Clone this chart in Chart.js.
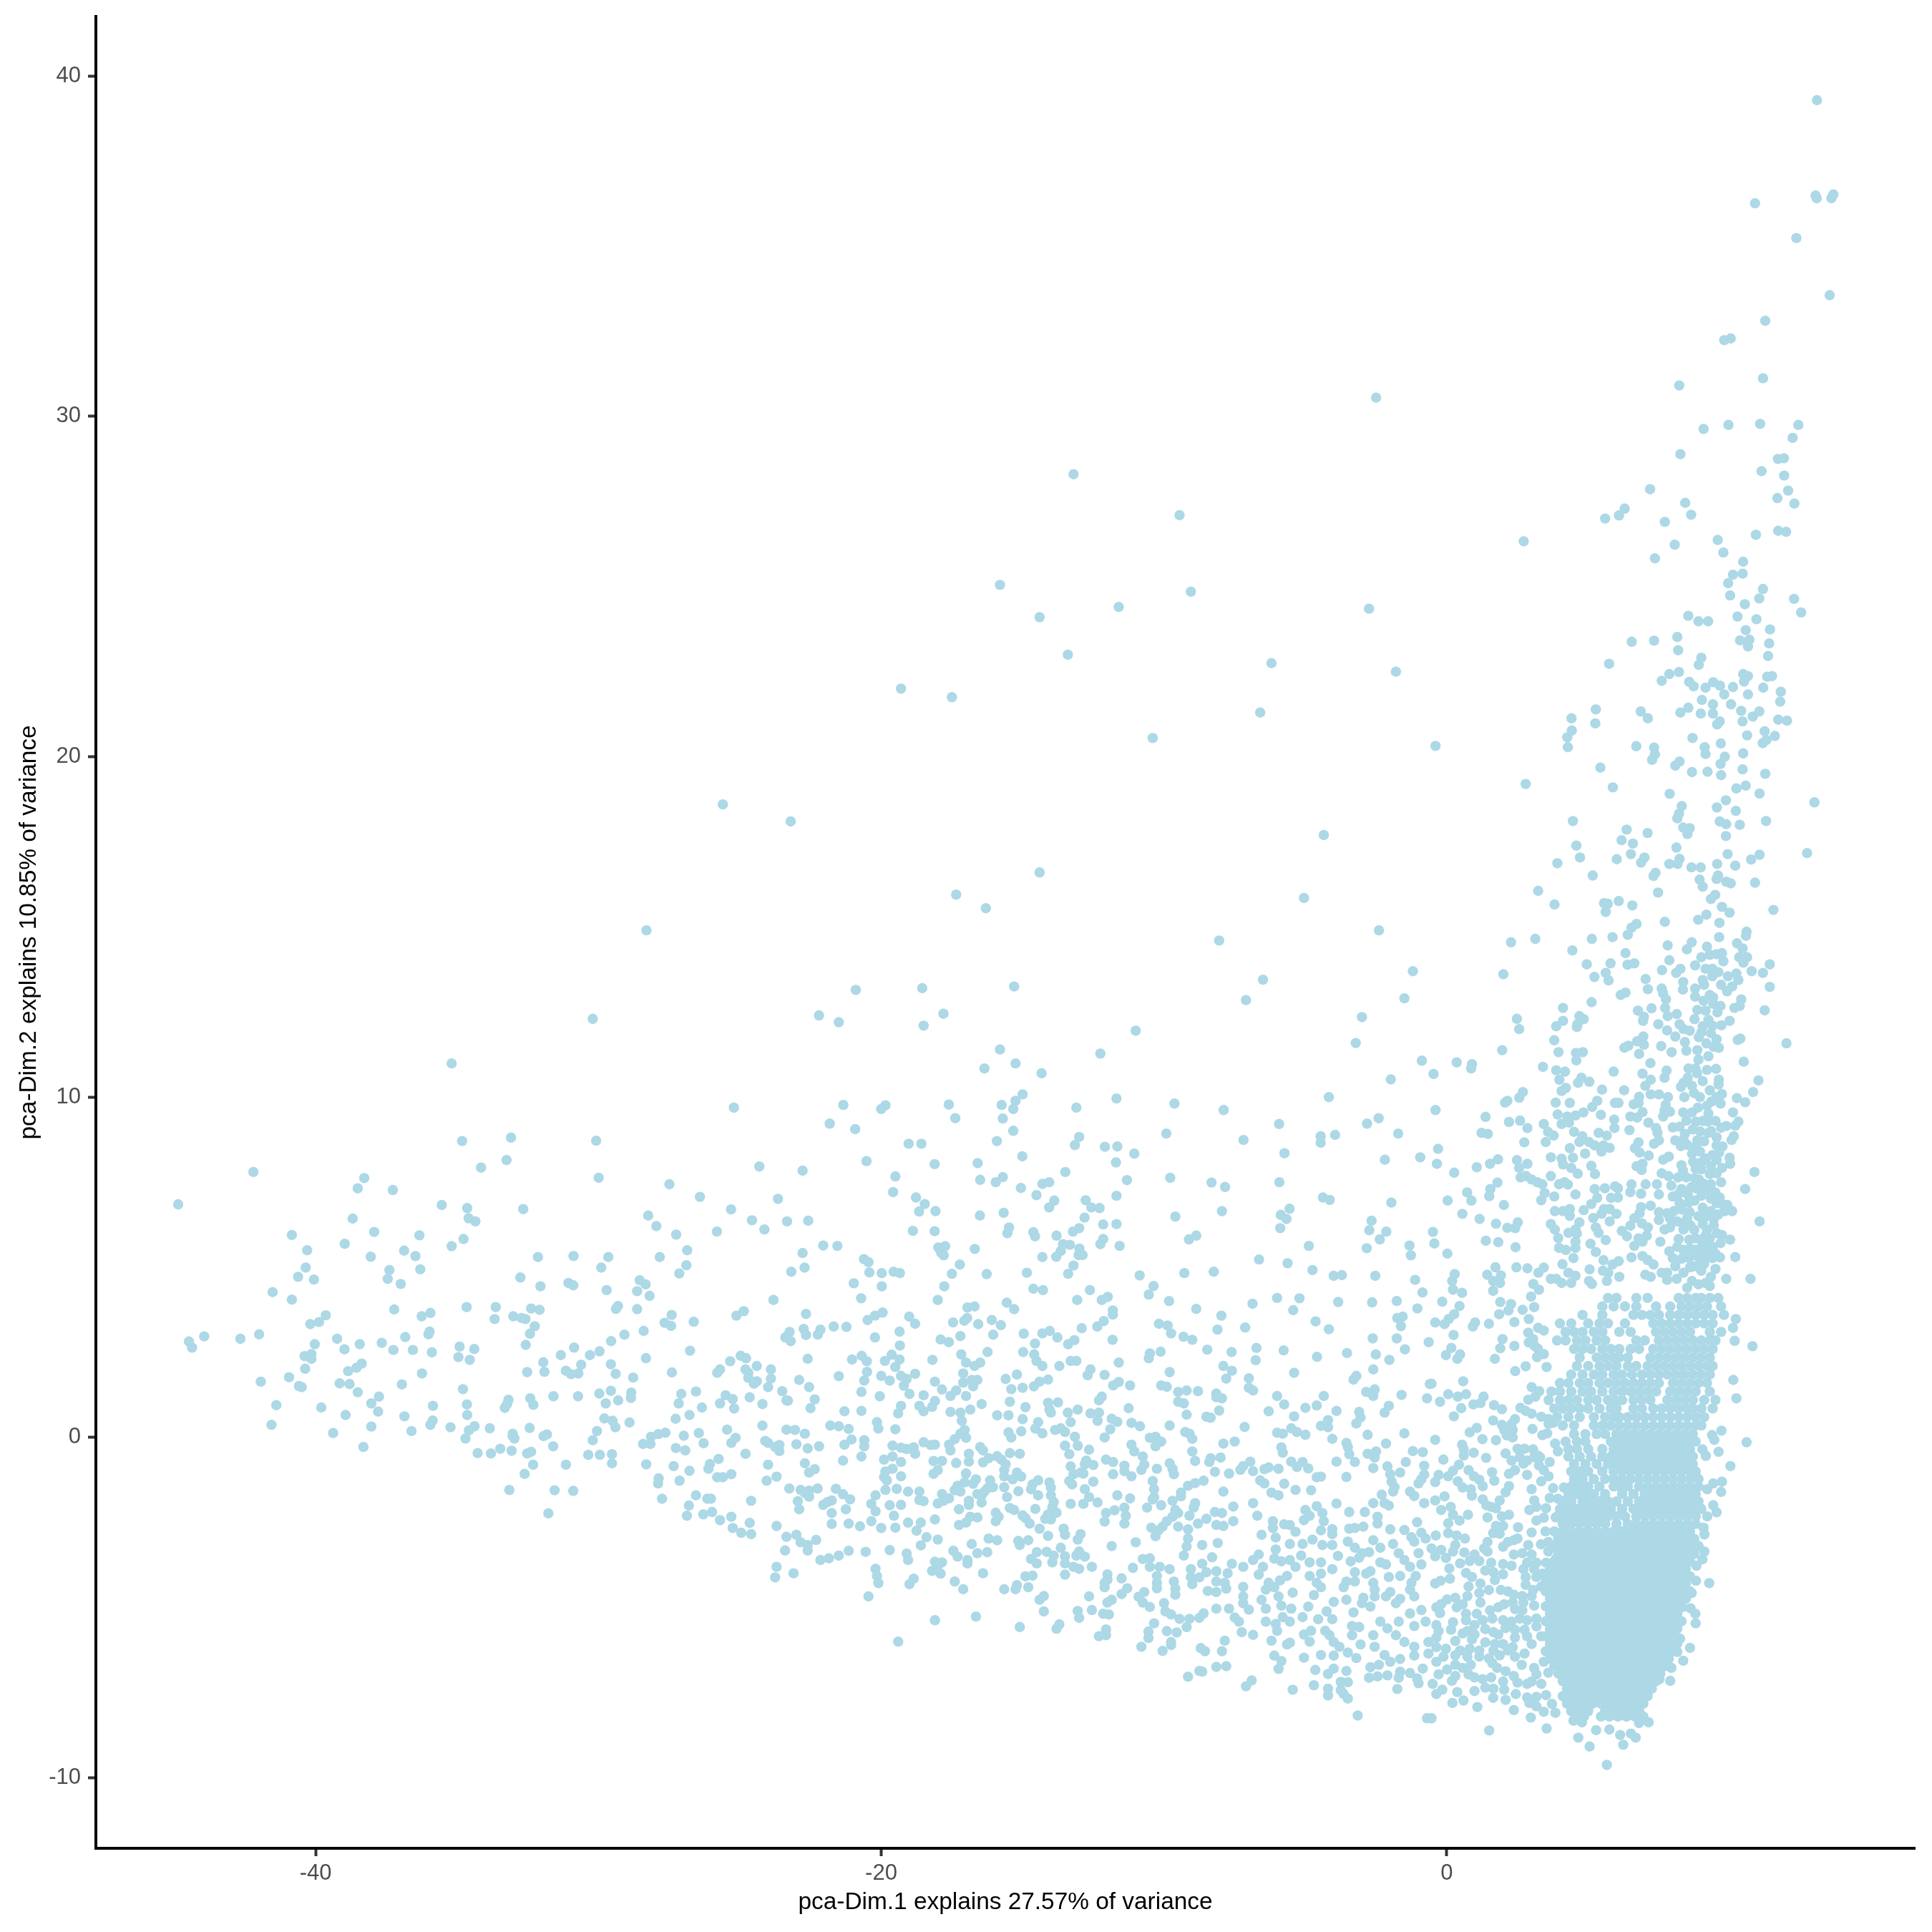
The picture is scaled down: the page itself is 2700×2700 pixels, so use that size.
<!DOCTYPE html>
<html>
<head>
<meta charset="utf-8">
<title>PCA scatter</title>
<script src="https://cdn.jsdelivr.net/npm/chart.js@4/dist/chart.umd.min.js"></script>
<style>
  html, body { margin: 0; padding: 0; background: #fff; }
  canvas { display: block; }
</style>
</head>
<body>
<canvas id="pca" width="2700" height="2700"></canvas>
<script>
const xTicks = [-40, -20, 0]
const yTicks = [-10, 0, 10, 20, 30, 40]
const xTitle = 'pca-Dim.1 explains 27.57% of variance'
const yTitle = 'pca-Dim.2 explains 10.85% of variance'

// Left part of the cloud
const farLeftPoints = [[-35.19,10.99],[-34.82,8.71],[-33.09,8.81],[-30.08,8.72],[-42.2,7.8],[-34.15,7.93],[-33.25,8.15],[-29.99,7.63],[-27.49,7.44],[-26.41,7.07],[-38.28,7.62],[-38.51,7.32],[-37.27,7.27],[-44.86,6.85],[-35.54,6.83],[-34.64,6.74],[-32.66,6.71],[-38.69,6.43],[-34.59,6.44],[-34.35,6.35],[-28.24,6.52],[-27.95,6.21],[-27.25,5.96],[-37.93,6.04],[-40.84,5.95],[-36.33,5.94],[-34.77,5.83],[-35.19,5.62],[-38.97,5.69],[-40.3,5.5],[-36.87,5.49],[-38.05,5.31],[-36.47,5.33],[-32.14,5.3],[-30.88,5.33],[-29.65,5.3],[-27.83,5.3],[-26.86,5.5],[-26.89,5.06],[-27.14,4.82],[-29.9,4.99],[-40.35,4.99],[-37.39,4.92],[-36.3,4.94],[-40.62,4.72],[-40.06,4.64],[-37.45,4.66],[-36.99,4.51],[-32.76,4.7],[-32.05,4.44],[-31.06,4.54],[-30.89,4.47],[-29.71,4.33],[-28.54,4.62],[-28.33,4.5],[-28.63,4.3],[-28.19,4.16],[-41.52,4.27],[-40.84,4.05],[-29.31,3.86],[-29.38,3.78],[-28.63,3.77],[-37.22,3.76],[-35.94,3.66],[-36.25,3.56],[-34.66,3.83],[-33.63,3.83],[-33.67,3.48],[-33.01,3.56],[-32.72,3.51],[-32.58,3.48],[-32.38,3.79],[-32.08,3.75],[-32.25,3.27],[-32.42,3.05],[-39.64,3.59],[-39.88,3.39],[-40.19,3.33],[-35.97,3.11],[-36.01,3.03],[-27.41,3.6],[-27.66,3.37],[-27.43,3.28],[-26.63,3.4],[-28.4,3.13],[-29.08,3.02],[-29.55,2.83],[-43.94,2.97],[-44.48,2.82],[-44.37,2.64],[-42.66,2.9],[-42.0,3.03],[-40.03,2.74],[-39.24,2.9],[-38.44,2.74],[-38.98,2.59],[-37.66,2.78],[-36.83,2.95],[-37.25,2.57],[-36.56,2.57],[-35.89,2.5],[-34.91,2.67],[-34.39,2.6],[-34.95,2.36],[-34.55,2.28],[-32.57,2.72],[-30.86,2.64],[-31.33,2.42],[-30.3,2.42],[-29.96,2.53],[-26.76,2.55],[-28.32,2.33],[-40.39,2.39],[-40.15,2.45],[-40.15,2.31],[-40.37,2.02],[-38.37,2.17],[-38.55,2.05],[-38.85,1.95],[-31.95,2.21],[-30.61,2.14],[-29.56,2.15],[-32.52,1.92],[-31.91,1.93],[-31.15,1.96],[-30.97,1.86],[-30.71,1.88],[-29.39,1.87],[-28.77,1.76],[-27.4,1.91],[-36.24,1.88],[-40.94,1.77],[-41.94,1.64],[-40.59,1.51],[-40.49,1.48],[-39.15,1.59],[-38.8,1.57],[-36.95,1.56],[-38.51,1.33],[-34.79,1.42],[-29.56,1.37],[-28.84,1.32],[-28.85,1.16],[-29.97,1.29],[-30.72,1.21],[-31.59,1.21],[-32.41,1.15],[-33.18,1.11],[-27.07,1.28],[-26.55,1.35],[-37.76,1.2],[-38.03,1.0],[-29.74,1.0],[-29.3,1.09],[-27.16,1.0],[-35.85,0.93],[-34.65,0.97],[-33.23,0.98],[-33.31,0.87],[-32.3,0.96],[-41.39,0.95],[-39.8,0.88],[-37.79,0.76],[-26.34,0.88],[-38.94,0.66],[-34.64,0.66],[-36.86,0.62],[-26.78,0.66],[-27.27,0.55],[-29.79,0.56],[-29.5,0.49],[-28.9,0.44],[-29.4,0.3],[-35.86,0.5],[-35.94,0.37],[-41.56,0.37],[-38.03,0.32],[-34.38,0.33],[-35.23,0.3],[-34.58,0.21],[-33.84,0.27],[-32.43,0.28],[-36.61,0.19],[-39.38,0.13],[-30.05,0.19],[-33.03,0.11],[-33.03,0.04],[-32.97,-0.03],[-31.82,0.09],[-31.94,0.04],[-34.7,-0.03],[-30.2,-0.08],[-26.45,0.13],[-26.98,0.05],[-27.63,0.14],[-27.88,0.1],[-28.14,0.02],[-28.42,-0.19],[-28.16,-0.19],[-26.28,-0.17],[-27.26,-0.31],[-26.93,-0.38],[-38.31,-0.28],[-33.47,-0.33],[-31.6,-0.26],[-34.27,-0.46],[-33.8,-0.47],[-33.07,-0.39],[-32.52,-0.47],[-32.38,-0.42],[-30.36,-0.51],[-29.95,-0.51],[-29.52,-0.49],[-29.52,-0.76],[-28.31,-0.79],[-27.34,-0.84],[-32.31,-0.8],[-31.15,-0.8],[-32.61,-1.07],[-26.78,-0.98],[-26.11,-0.92],[-26.06,-0.78],[-27.87,-1.2],[-27.89,-1.35],[-27.13,-1.27],[-33.15,-1.54],[-31.55,-1.55],[-30.89,-1.57],[-27.75,-1.8],[-26.55,-1.7],[-26.15,-1.8],[-26.02,-1.8],[-26.8,-2.0],[-31.77,-2.23],[-26.87,-2.3],[-26.29,-2.26],[-25.98,-2.19]]

// Lone points above the main cloud
const upperMiddlePoints = [[-28.3,14.9],[-30.2,12.3],[-25.6,18.6],[-23.2,18.1],[-19.3,22.0],[-17.5,21.75],[-15.8,25.05],[-14.4,24.1],[-13.2,28.3],[-13.4,23.0],[-11.6,24.4],[-9.45,27.1],[-9.05,24.85],[-10.4,20.55],[-6.2,22.75],[-6.6,21.3],[-2.5,30.55],[-2.75,24.35],[-1.8,22.5],[-4.35,17.7],[-5.05,15.85],[-8.05,14.6],[-6.5,13.45],[-7.1,12.85],[-2.4,14.9],[-1.2,13.7],[-1.5,12.9],[-3.0,12.35],[-14.4,16.6],[-16.3,15.55],[-17.35,15.95],[-15.3,13.25],[-18.55,13.2],[-17.8,12.45],[-18.5,12.1],[-20.9,13.15],[-22.2,12.4],[-21.5,12.2],[-11.0,11.95]]

const upperRightPoints = [[13.09,39.29],[13.04,36.49],[13.08,36.41],[13.6,36.41],[13.67,36.52],[10.9,36.26],[12.36,35.24],[13.54,33.56],[11.26,32.81],[9.81,32.24],[10.04,32.29],[8.22,30.91],[11.18,31.12],[9.08,29.63],[9.96,29.75],[11.08,29.78],[12.43,29.75],[12.23,29.37],[8.26,28.89],[11.71,28.75],[11.92,28.77],[11.13,28.39],[11.93,28.26],[12.07,27.82],[11.69,27.6],[12.29,27.44],[7.19,27.86],[6.29,27.29],[6.09,27.09],[5.6,27.0],[8.43,27.46],[8.64,27.11],[7.71,26.9],[8.06,26.23],[7.36,25.83],[2.72,26.33],[9.58,26.37],[9.78,26.0],[10.93,26.52],[11.72,26.64],[12.0,26.61],[10.48,25.73],[10.46,25.38],[10.12,25.35],[9.95,25.1],[10.02,24.74],[11.18,24.93],[11.05,24.65],[10.54,24.48],[12.28,24.64],[12.53,24.24],[10.28,24.12],[10.95,24.04],[8.54,24.14],[8.9,23.98],[9.24,23.98],[10.57,23.72],[11.43,23.74],[8.15,23.52],[7.33,23.41],[6.54,23.38],[10.37,23.42],[10.7,23.44],[11.4,23.33]]

// Middle of the cloud, x from -26 to -0.5
const middleUpperPoints = [[-15.8,11.4],[-12.25,11.28],[-3.22,11.59],[-15.25,10.99],[-16.35,10.84],[-14.33,10.7],[-0.88,11.07],[-1.98,10.52],[-15.0,10.08],[-15.25,9.89],[-15.74,9.77],[-15.33,9.65],[-25.21,9.69],[-21.34,9.77],[-19.85,9.76],[-20.0,9.65],[-17.61,9.78],[-17.38,9.38],[-15.7,9.37],[-13.1,9.69],[-11.68,9.96],[-9.63,9.81],[-7.89,9.62],[-4.17,10.0],[-5.93,9.21],[-2.41,9.38],[-2.82,9.22],[-21.82,9.22],[-20.92,9.06],[-15.33,9.01],[-13.0,8.83],[-9.92,8.93],[-4.46,8.85],[-4.46,8.66],[-3.95,8.89],[-1.72,8.93],[-7.19,8.74],[-19.03,8.63],[-18.58,8.63],[-15.91,8.71],[-13.15,8.59],[-12.09,8.54],[-11.65,8.55],[-11.05,8.34],[-5.74,8.35],[-15.01,8.26],[-24.31,7.96],[-22.78,7.84],[-20.52,8.12],[-18.11,8.03],[-16.59,8.06],[-11.7,8.08],[-2.19,8.16],[-0.94,8.23],[-13.49,7.8],[-19.5,7.67],[-16.5,7.57],[-15.95,7.5],[-15.7,7.65],[-14.3,7.45],[-14.06,7.5],[-11.31,7.56],[-9.78,7.63],[-8.32,7.49],[-7.84,7.36],[-5.92,7.5],[-15.06,7.33],[-19.58,7.21],[-14.51,7.12],[-11.68,7.1],[-18.77,7.05],[-23.65,7.01],[-13.88,6.96],[-12.77,6.97],[-4.38,7.05],[-4.14,6.98],[-1.96,6.9],[-18.46,6.86],[-14.06,6.76],[-12.57,6.76],[-12.28,6.74],[-25.31,6.7],[-18.08,6.65],[-18.66,6.64],[-15.67,6.6],[-7.95,6.65],[-5.56,6.72],[-5.87,6.54],[-16.51,6.52],[-9.6,6.49],[-12.81,6.46],[-5.67,6.42],[-24.57,6.38],[-23.33,6.35],[-22.58,6.37],[-2.66,6.37],[-12.15,6.26],[-11.68,6.27],[-24.13,6.11],[-18.88,6.07],[-18.11,6.06],[-15.48,6.17],[-15.54,6.0],[-5.89,6.15],[-2.74,6.09],[-2.14,6.05],[-25.81,6.05],[-13.0,6.15],[-13.22,6.05],[-14.62,6.03],[-14.56,5.91],[-13.8,5.93],[-8.86,5.93],[-9.12,5.82],[-2.37,5.82],[-12.15,5.83],[-12.25,5.68],[-13.57,5.68],[-13.33,5.66],[-11.57,5.63],[-22.05,5.64],[-21.55,5.63],[-4.88,5.63],[-1.32,5.64],[-17.98,5.58],[-17.74,5.62],[-16.69,5.54],[-13.65,5.48],[-12.99,5.55],[-22.78,5.42],[-17.88,5.43],[-17.79,5.35],[-13.02,5.36],[-12.88,5.36],[-2.83,5.56],[-1.27,5.35],[-13.81,5.31],[-14.3,5.3],[-20.61,5.24],[-20.45,5.15],[-6.64,5.23],[-13.2,5.05],[-17.22,5.08],[-5.63,5.12],[-22.71,4.99],[-23.18,4.87],[-20.42,4.85],[-19.98,4.83],[-19.56,4.87],[-19.34,4.83],[-17.5,4.81],[-16.27,4.8],[-14.85,4.84],[-13.39,4.81],[-10.86,4.76],[-9.28,4.83],[-8.24,4.87],[-4.75,4.92],[-4.0,4.75],[-3.71,4.77],[-2.53,4.75],[-20.97,4.53],[-19.98,4.44],[-17.77,4.44],[-10.37,4.45],[-1.12,4.63],[-10.54,4.2],[-14.62,4.37],[-14.28,4.33],[-12.62,4.33],[-0.86,4.26],[-20.71,4.09],[-23.81,4.04],[-18.0,4.04],[-13.07,4.04],[-12.2,4.04],[-11.99,4.13],[-9.82,4.01],[-6.0,4.1],[-5.21,4.09],[-3.84,3.98],[-2.64,3.97],[-1.77,4.01],[-6.87,3.93],[-15.56,3.96],[-16.95,3.82],[-16.7,3.85],[-15.3,3.77],[-8.86,3.78],[-5.43,3.74],[-1.04,3.79],[-24.86,3.71],[-25.12,3.58],[-22.66,3.63],[-19.95,3.67],[-20.22,3.58],[-20.48,3.45],[-11.81,3.73],[-11.81,3.61],[-7.97,3.58],[-1.56,3.55],[-1.75,3.51],[-19.01,3.55],[-18.8,3.34],[-17.46,3.38],[-16.96,3.51],[-17.06,3.43],[-16.57,3.33],[-16.09,3.45],[-15.77,3.3],[-12.13,3.42],[-12.36,3.26],[-4.64,3.41],[-10.18,3.34],[-9.87,3.29],[-1.62,3.27],[-7.13,3.23],[-4.17,3.18],[-22.74,3.19],[-22.15,3.17],[-21.68,3.26],[-21.23,3.25],[-23.24,3.1],[-22.66,3.01],[-22.24,3.02],[-19.35,3.11],[-12.91,3.21],[-8.11,3.17],[-14.04,3.13],[-14.3,3.06],[-14.96,3.05],[-9.75,3.06],[-16.04,3.02],[-20.22,2.94],[-23.39,2.94],[-23.2,2.83],[-13.77,2.94],[-17.2,2.98],[-9.31,2.96],[-9.0,2.87],[-2.62,2.91],[-1.77,2.91],[-0.64,2.8],[-17.9,2.88],[-17.61,2.8],[-13.17,2.86],[-13.39,2.74],[-11.82,2.87],[-14.56,2.76],[-19.34,2.7],[-8.47,2.58],[-7.61,2.51],[-6.73,2.63],[-5.77,2.56],[-1.48,2.59],[-14.98,2.51],[-16.24,2.51],[-17.17,2.44],[-10.12,2.52],[-10.5,2.47],[-10.54,2.33],[-3.53,2.48],[-4.59,2.37],[-2.51,2.44],[-14.59,2.44],[-19.63,2.43],[-20.69,2.4],[-24.97,2.4],[-24.78,2.33],[-21.03,2.29],[-20.51,2.24],[-22.6,2.31],[-19.87,2.25],[-19.35,2.29],[-18.19,2.28],[-14.51,2.25],[-6.76,2.27],[-2.03,2.28],[-25.34,2.24]]

const middleCentrePoints = [[-24.4,2.1],[-25.7,2.0],[-23.9,2.0],[-24.8,2.0],[-24.7,1.9],[-17.0,2.2],[-16.5,2.2],[-16.7,2.1],[-14.3,2.1],[-13.7,2.1],[-13.3,2.25],[-13.1,2.25],[-11.6,2.2],[-12.6,2.0],[-7.9,2.1],[-7.6,1.96],[-19.5,2.07],[-20.5,1.93],[-2.6,2.0],[-5.4,1.9],[-9.8,1.92],[-12.7,1.83],[-25.8,1.9],[-23.9,1.73],[-24.7,1.75],[-24.4,1.65],[-24.5,1.58],[-22.9,1.69],[-21.5,1.8],[-20.6,1.67],[-20.0,1.81],[-19.7,1.67],[-19.3,1.81],[-19.1,1.72],[-18.8,1.87],[-18.1,1.64],[-17.1,1.88],[-17.1,1.61],[-16.8,1.69],[-16.6,1.69],[-16.75,1.5],[-15.6,1.72],[-15.2,1.85],[-14.4,1.64],[-14.1,1.7],[-14.6,1.5],[-12.1,1.84],[-11.6,1.63],[-11.8,1.53],[-11.2,1.53],[-7.8,1.73],[-7.0,1.74],[-3.3,1.7],[-3.2,1.81],[-0.6,1.57],[-24.0,1.48],[-23.5,1.36],[-22.55,1.48],[-19.2,1.52],[-17.85,1.41],[-17.35,1.38],[-15.4,1.42],[-15.0,1.46],[-10.1,1.53],[-9.9,1.49],[-9.5,1.34],[-9.2,1.38],[-8.8,1.36],[-8.15,1.29],[-7.0,1.46],[-6.85,1.38],[-2.85,1.34],[-2.55,1.41],[-6.0,1.22],[-4.35,1.22],[-1.6,1.25],[-0.7,1.15],[-19.0,1.28],[-25.5,1.24],[-20.7,1.34],[-17.55,1.22],[-17.0,1.22],[-20.05,1.21],[-18.5,1.24],[-25.25,1.13],[-24.65,1.18],[-23.35,1.09],[-23.3,1.08],[-22.35,1.12],[-25.7,1.0],[-24.2,0.98],[-18.1,1.07],[-18.2,0.9],[-18.65,0.93],[-15.45,1.05],[-16.45,0.98],[-14.1,1.02],[-13.75,1.03],[-12.2,1.2],[-12.3,1.09],[-9.5,1.05],[-9.3,1.0],[-8.15,1.18],[-7.95,1.15],[-5.75,0.97],[-5.0,0.87],[-4.6,0.94],[-2.6,1.22],[-2.05,0.93],[-13.05,0.82],[-19.3,0.93],[-22.5,0.86],[-25.2,0.85],[-14.9,0.89],[-18.5,0.77],[-17.55,0.75],[-17.2,0.73],[-16.85,0.82],[-20.7,0.78],[-21.3,0.77],[-19.4,0.71],[-14.05,0.82],[-14.0,0.73],[-13.4,0.73],[-12.6,0.71],[-12.3,0.73],[-11.25,0.86],[-9.2,0.67],[-8.05,0.79],[-6.3,0.77],[-3.9,0.78],[-3.1,0.75],[-2.2,0.73],[-15.9,0.65],[-15.5,0.65],[-5.4,0.62],[-3.05,0.59],[-8.5,0.61],[-8.35,0.58],[-17.15,0.49],[-15.0,0.54],[-12.35,0.49],[-11.85,0.55],[-11.65,0.46],[-14.45,0.45],[-13.3,0.45],[-20.15,0.45],[-4.2,0.51],[-3.2,0.41],[-21.8,0.35],[-21.5,0.33],[-24.2,0.35],[-20.1,0.26],[-19.5,0.24],[-17.05,0.22],[-11.15,0.43],[-10.85,0.33],[-9.8,0.35],[-7.15,0.31],[-4.45,0.34],[-4.2,0.3],[-14.55,0.26],[-13.85,0.22],[-13.65,0.27],[-13.5,0.16],[-11.9,0.24],[-21.15,0.25],[-23.35,0.23],[-23.05,0.22],[-25.45,0.23],[-6.0,0.14],[-5.8,0.11],[-5.5,0.27],[-5.3,0.16],[-5.0,0.08],[-9.25,0.16],[-9.1,0.11],[-22.7,0.11],[-15.5,0.15],[-15.05,0.18],[-14.3,0.12],[-15.4,0.0],[-17.2,0.11],[-17.4,-0.05],[-17.0,-0.01],[-13.15,0.02],[-12.1,0.0],[-10.5,-0.01],[-10.3,0.02],[-9.0,-0.04],[-2.8,0.08],[-4.05,-0.04],[-25.15,-0.01],[-21.05,-0.06],[-20.6,-0.08],[-10.1,-0.12],[-7.5,-0.12],[-1.5,0.12],[-25.3,-0.16],[-24.1,-0.1],[-24.0,-0.16],[-23.6,-0.22],[-23.75,-0.28],[-23.0,-0.2],[-22.2,-0.26],[-21.3,-0.21],[-20.6,-0.26],[-19.6,-0.24],[-19.3,-0.3],[-19.1,-0.34],[-18.85,-0.29],[-18.5,-0.14],[-18.25,-0.22],[-18.1,-0.21],[-17.6,-0.21],[-16.5,-0.28],[-13.5,-0.24],[-13.05,-0.24],[-11.15,-0.21],[-10.3,-0.26],[-7.9,-0.18],[-3.55,-0.16],[-3.5,-0.28],[-2.15,-0.18],[-5.85,-0.29],[-23.6,-0.4],[-22.6,-0.32],[-17.55,-0.38],[-16.4,-0.38],[-12.65,-0.36],[-11.05,-0.41],[-9.0,-0.41],[-5.8,-0.45],[-3.45,-0.49],[-2.8,-0.48],[-2.5,-0.41],[-24.8,-0.48],[-18.8,-0.48],[-16.9,-0.48],[-13.35,-0.49],[-15.45,-0.46],[-15.1,-0.48],[-20.7,-0.56],[-15.9,-0.55],[-16.2,-0.61],[-25.75,-0.63],[-21.35,-0.68],[-19.9,-0.65],[-19.6,-0.56],[-19.3,-0.72],[-18.15,-0.69],[-17.85,-0.69],[-17.35,-0.75],[-16.9,-0.71],[-16.4,-0.73],[-15.75,-0.65],[-12.05,-0.65],[-11.8,-0.72],[-12.75,-0.68],[-12.5,-0.81],[-10.75,-0.56],[-8.9,-0.69],[-8.35,-0.61],[-8.4,-0.72],[-8.0,-0.59],[-6.95,-0.71],[-5.5,-0.71],[-5.1,-0.72],[-3.9,-0.71],[-3.25,-0.72],[-1.45,-0.72],[-1.2,-0.4],[-0.85,-0.43],[-2.55,-0.59],[-24.0,-0.8],[-22.7,-0.76],[-22.35,-0.93],[-22.55,-1.03],[-19.6,-0.92],[-19.85,-1.0],[-18.0,-0.96],[-15.6,-0.79],[-15.65,-0.96],[-15.2,-1.03],[-13.3,-0.85],[-12.95,-1.03],[-12.8,-0.79],[-11.4,-0.83],[-11.4,-0.99],[-10.7,-0.8],[-10.8,-0.95],[-10.25,-0.92],[-9.8,-0.76],[-9.7,-0.92],[-7.2,-0.84],[-7.3,-0.95],[-6.85,-0.99],[-6.45,-0.93],[-6.3,-0.88],[-5.95,-0.92],[-5.3,-0.87],[-4.9,-0.91],[-2.6,-0.9],[-2.1,-0.85],[-0.8,-0.83],[-25.3,-1.08],[-25.6,-1.17],[-25.8,-1.17],[-18.15,-1.07],[-19.9,-1.16],[-19.3,-1.14],[-17.0,-1.06],[-15.65,-1.14],[-15.35,-1.23],[-15.05,-1.15],[-13.2,-1.08],[-12.85,-1.06],[-11.8,-1.08],[-11.15,-1.14],[-9.65,-1.08],[-8.2,-1.01],[-7.7,-1.06],[-1.65,-1.03],[-2.0,-1.08],[-4.45,-1.15],[-4.6,-1.17],[-3.55,-1.16],[-1.95,-1.3],[-0.8,-1.09],[-0.9,-1.23],[-24.05,-1.27],[-23.7,-1.15],[-19.8,-1.26],[-16.65,-1.23],[-14.45,-1.26],[-14.65,-1.38],[-14.05,-1.32],[-13.35,-1.28],[-13.25,-1.38],[-12.5,-1.3],[-10.4,-1.28],[-8.6,-1.27],[-8.9,-1.34],[-6.6,-1.26],[-6.45,-1.35],[-5.75,-1.36],[-1.0,-1.35],[-16.15,-1.26],[-17.3,-1.42],[-17.05,-1.32],[-16.75,-1.36],[-9.15,-1.42],[-23.25,-1.5],[-22.85,-1.54],[-22.55,-1.56],[-22.25,-1.5],[-21.6,-1.51],[-19.85,-1.54],[-19.45,-1.51],[-19.05,-1.59],[-18.65,-1.59],[-17.4,-1.55],[-17.2,-1.59],[-16.25,-1.5],[-16.05,-1.46],[-15.65,-1.46],[-14.0,-1.48],[-12.8,-1.52],[-14.7,-1.52],[-15.15,-1.58],[-16.35,-1.59],[-10.35,-1.52],[-9.4,-1.62],[-7.9,-1.59],[-5.35,-1.54],[-4.8,-1.55],[-6.2,-1.62],[-1.85,-1.46],[-1.9,-1.59],[-1.3,-1.59],[-2.3,-1.68]]

const middleLowerPoints = [[-22.7,-1.63],[-22.55,-1.74],[-21.35,-1.67],[-21.1,-1.82],[-20.2,-1.7],[-17.85,-1.66],[-17.6,-1.79],[-16.9,-1.86],[-16.45,-1.7],[-16.6,-1.66],[-15.55,-1.75],[-14.45,-1.7],[-14.0,-1.7],[-12.65,-1.75],[-11.65,-1.7],[-11.2,-1.79],[-10.35,-1.76],[-5.95,-1.7],[-9.4,-1.73],[-9.7,-1.86],[-1.15,-1.72],[-2.2,-1.93],[-4.6,-2.02],[-24.6,-1.86],[-22.95,-1.87],[-21.9,-1.9],[-21.75,-1.85],[-20.35,-1.95],[-19.7,-1.99],[-19.3,-1.98],[-18.65,-1.84],[-18.5,-1.87],[-18.0,-1.94],[-17.8,-1.86],[-16.9,-1.98],[-16.45,-1.91],[-13.9,-1.9],[-13.3,-1.95],[-12.85,-1.95],[-12.35,-1.91],[-10.4,-1.82],[-10.1,-1.99],[-8.9,-1.93],[-6.85,-1.93],[-3.9,-1.94],[-2.6,-1.93],[-0.8,-1.93],[-22.9,-2.11],[-22.05,-1.98],[-21.25,-2.11],[-20.2,-2.17],[-17.25,-2.11],[-15.45,-2.07],[-15.3,-2.13],[-14.55,-2.1],[-13.95,-2.06],[-11.4,-2.06],[-10.6,-2.06],[-9.6,-2.13],[-8.95,-2.06],[-7.55,-2.03],[-5.0,-2.13],[-2.05,-2.0],[-8.2,-2.19],[-7.95,-2.22],[-3.45,-2.19],[-2.9,-2.19],[-4.4,-2.22],[-25.3,-2.33],[-21.75,-2.22],[-19.55,-2.3],[-15.95,-2.21],[-15.85,-2.33],[-15.0,-2.29],[-14.1,-2.26],[-13.8,-2.21],[-12.05,-2.22],[-11.75,-2.14],[-11.35,-2.3],[-9.1,-2.3],[-9.5,-2.22],[-9.7,-2.33],[-6.7,-2.3],[-4.85,-2.3],[-2.45,-2.33],[-16.85,-2.33],[-16.6,-2.35],[-5.05,-2.43],[-25.7,-2.43],[-24.65,-2.51],[-21.75,-2.54],[-21.15,-2.53],[-20.75,-2.61],[-20.35,-2.46],[-19.05,-2.5],[-18.6,-2.5],[-18.1,-2.41],[-17.25,-2.57],[-17.0,-2.5],[-15.95,-2.46],[-14.9,-2.37],[-14.75,-2.53],[-14.2,-2.39],[-14.0,-2.41],[-12.1,-2.47],[-11.4,-2.53],[-8.8,-2.53],[-8.5,-2.39],[-8.15,-2.57],[-7.9,-2.6],[-7.55,-2.46],[-6.15,-2.46],[-5.75,-2.55],[-4.35,-2.46],[-2.45,-2.53],[-9.9,-2.46],[-10.05,-2.62],[-25.25,-2.66],[-23.7,-2.6],[-20.0,-2.66],[-19.5,-2.65],[-18.75,-2.74],[-14.4,-2.68],[-13.55,-2.68],[-10.45,-2.65],[-10.2,-2.73],[-9.5,-2.62],[-9.15,-2.7],[-6.15,-2.66],[-5.55,-2.57],[-5.35,-2.77],[-4.05,-2.69],[-3.45,-2.68],[-4.45,-2.73],[-3.25,-2.66],[-2.95,-2.62],[-2.0,-2.7],[-1.5,-2.72],[-1.05,-2.49],[-24.95,-2.8],[-24.6,-2.84],[-23.35,-2.92],[-23.0,-2.86],[-22.3,-3.01],[-18.4,-2.93],[-18.0,-3.0],[-16.2,-2.97],[-15.9,-3.02],[-15.15,-3.04],[-14.8,-3.02],[-14.1,-2.89],[-13.5,-2.86],[-12.95,-2.84],[-13.05,-3.0],[-10.3,-2.9],[-9.15,-2.97],[-6.55,-2.86],[-6.05,-2.94],[-4.75,-3.0],[-4.05,-2.84],[-3.5,-3.06],[-2.6,-3.02],[-1.25,-2.93],[-0.9,-2.8],[-0.75,-2.97],[-22.85,-3.08],[-22.6,-3.16],[-18.6,-3.17],[-16.8,-3.13],[-15.1,-3.16],[-13.65,-3.24],[-11.85,-3.19],[-11.0,-3.08],[-8.65,-3.16],[-8.1,-3.1],[-9.2,-3.2],[-5.55,-3.13],[-5.1,-3.13],[-4.4,-3.16],[-4.05,-3.16],[-3.25,-3.24],[-2.35,-3.24],[-1.9,-3.13],[-1.15,-3.06],[-23.4,-3.32],[-22.6,-3.32],[-21.15,-3.33],[-20.55,-3.36],[-19.7,-3.31],[-19.1,-3.41],[-17.45,-3.33],[-16.25,-3.37],[-16.6,-3.4],[-14.5,-3.37],[-14.15,-3.36],[-13.0,-3.35],[-9.3,-3.47],[-6.65,-3.44],[-6.05,-3.29],[-5.55,-3.6],[-5.15,-3.47],[-3.85,-3.48],[-3.0,-3.4],[-2.75,-3.37],[-1.7,-3.4],[-1.0,-3.4],[-22.15,-3.6],[-21.85,-3.55],[-21.5,-3.47],[-19.05,-3.6],[-17.3,-3.5],[-16.95,-3.6],[-14.7,-3.57],[-13.9,-3.47],[-13.5,-3.49],[-13.1,-3.47],[-12.8,-3.5],[-10.75,-3.57],[-10.5,-3.55],[-8.3,-3.52],[-6.85,-3.6],[-6.1,-3.56],[-5.85,-3.64],[-4.85,-3.67],[-4.45,-3.67],[-2.35,-3.67],[-3.4,-3.64],[-3.1,-3.53],[-1.5,-3.6],[-23.7,-3.8],[-20.2,-3.86],[-18.1,-3.65],[-17.85,-3.67],[-18.0,-3.77],[-16.95,-3.7],[-14.5,-3.7],[-13.95,-3.67],[-13.5,-3.7],[-13.2,-3.8],[-13.0,-3.86],[-12.55,-3.8],[-11.1,-3.83],[-10.5,-3.8],[-10.15,-3.8],[-9.8,-3.87],[-9.05,-3.87],[-8.65,-3.71],[-7.6,-3.71],[-7.2,-3.8],[-6.5,-3.8],[-5.35,-3.8],[-4.05,-3.87],[-2.7,-3.93],[-3.25,-3.96],[-2.15,-3.73],[-1.3,-3.8],[-0.9,-3.73],[-23.1,-3.99],[-23.75,-4.11],[-20.15,-4.07],[-18.2,-3.92],[-17.9,-4.0],[-16.4,-3.99],[-13.5,-4.03],[-12.0,-4.02],[-10.25,-4.07],[-9.05,-4.1],[-8.75,-4.11],[-8.5,-3.96],[-8.15,-3.93],[-7.75,-3.99],[-6.65,-4.03],[-5.65,-4.07],[-4.85,-4.07],[-4.45,-4.0],[-2.05,-4.1],[-2.85,-4.0],[-1.65,-4.07],[-1.1,-4.07],[-14.9,-4.08],[-14.65,-4.06],[-20.1,-4.28],[-19.0,-4.31],[-18.85,-4.15],[-17.4,-4.23],[-15.2,-4.34],[-12.1,-4.27],[-12.0,-4.18],[-11.5,-4.14],[-10.25,-4.27],[-9.65,-4.23],[-9.0,-4.31],[-8.15,-4.23],[-7.85,-4.27],[-6.3,-4.27],[-5.9,-4.2],[-4.6,-4.27],[-3.55,-4.23],[-3.25,-4.23],[-2.6,-4.27],[-1.25,-4.27],[-15.65,-4.46],[-17.1,-4.46],[-14.8,-4.4],[-15.25,-4.46],[-12.1,-4.4],[-11.3,-4.43],[-10.7,-4.54],[-10.25,-4.43],[-9.6,-4.44],[-8.45,-4.51],[-8.15,-4.54],[-7.8,-4.44],[-7.2,-4.39],[-6.4,-4.47],[-6.1,-4.4],[-5.45,-4.56],[-4.45,-4.4],[-3.65,-4.4],[-2.55,-4.47],[-2.0,-4.54],[-1.3,-4.47],[-20.45,-4.67],[-14.4,-4.77],[-14.25,-4.66],[-12.65,-4.67],[-11.5,-4.6],[-11.85,-4.77],[-10.9,-4.68],[-9.6,-4.62],[-7.2,-4.67],[-6.55,-4.77],[-5.95,-4.67],[-4.7,-4.63],[-3.55,-4.77],[-2.95,-4.71],[-2.55,-4.67],[-2.15,-4.67],[-1.65,-4.74],[-1.15,-4.67],[-14.25,-5.11],[-13.05,-5.1],[-12.55,-5.07],[-12.0,-4.85],[-12.15,-5.18],[-11.95,-5.2],[-10.75,-4.85],[-10.5,-4.98],[-10.0,-4.87],[-9.95,-5.11],[-9.75,-5.2],[-8.6,-5.17],[-8.15,-5.03],[-7.7,-5.03],[-7.2,-4.87],[-7.0,-5.06],[-6.4,-5.03],[-5.85,-4.94],[-5.5,-5.03],[-4.9,-4.97],[-4.25,-5.11],[-4.0,-4.83],[-3.3,-5.14],[-3.0,-4.87],[-2.7,-4.97],[-1.8,-4.87],[-1.3,-5.17],[-0.9,-5.07],[-18.1,-5.37],[-16.65,-5.26],[-13.0,-5.3],[-10.35,-5.46],[-9.45,-5.33],[-9.1,-5.33],[-8.75,-5.3],[-7.5,-5.29],[-7.35,-5.41],[-6.4,-5.41],[-6.05,-5.48],[-5.8,-5.28],[-5.55,-5.41],[-5.1,-5.28],[-4.55,-5.34],[-4.05,-5.34],[-3.35,-5.54],[-3.1,-5.57],[-2.35,-5.41],[-2.1,-5.61],[-1.7,-5.41],[-1.15,-5.54],[-0.75,-5.41],[-15.1,-5.57],[-13.7,-5.49],[-13.8,-5.62],[-12.05,-5.64],[-12.05,-5.81],[-12.3,-5.84],[-10.55,-5.7],[-10.55,-5.89],[-9.9,-5.69],[-9.55,-5.73],[-9.2,-5.57],[-7.25,-5.72],[-6.85,-5.8],[-6.0,-5.68],[-4.8,-5.68],[-5.05,-5.79],[-4.3,-5.68],[-3.35,-5.81],[-2.6,-5.81],[-4.15,-5.81],[-1.8,-5.81],[-1.5,-6.01],[-0.65,-6.01],[-19.4,-6.0],[-10.8,-6.15],[-9.75,-6.01],[-9.75,-6.1],[-7.85,-5.97],[-6.2,-5.97],[-5.65,-6.08],[-5.55,-6.03],[-4.85,-6.0],[-4.0,-6.01],[-3.8,-6.15],[-3.05,-6.08],[-2.55,-6.15],[-1.15,-6.15],[-10.05,-6.27],[-8.7,-6.19],[-8.55,-6.28],[-7.95,-6.28],[-6.1,-6.41],[-5.05,-6.47],[-4.45,-6.39],[-4.0,-6.41],[-3.5,-6.32],[-3.2,-6.48],[-2.2,-6.39],[-1.65,-6.51],[-1.15,-6.41],[-0.65,-6.35],[-5.85,-6.57],[-5.95,-6.8],[-8.15,-6.74],[-7.8,-6.72],[-8.75,-6.86],[-8.65,-6.88],[-9.15,-7.03],[-4.65,-6.83],[-4.0,-6.79],[-4.2,-6.95],[-3.55,-6.86],[-2.7,-6.75],[-2.75,-7.06],[-2.45,-7.02],[-2.1,-6.99],[-2.0,-6.59],[-2.4,-6.68],[-1.7,-7.06],[-1.65,-6.88],[-1.3,-6.92],[-1.05,-7.08],[-0.85,-6.79],[-7.1,-7.31],[-6.9,-7.14],[-5.45,-7.41],[-4.7,-7.28],[-4.2,-7.38],[-4.2,-7.58],[-3.75,-7.18],[-3.75,-7.42],[-3.5,-7.19],[-3.65,-7.53],[-3.5,-7.67],[-1.75,-7.39],[-1.0,-7.22],[-3.15,-8.17],[-0.7,-8.25]]

// Right arm, y from 23 down to 4.5
const rightArmPoints = [[5.74,22.73],[8.18,23.13],[9.0,22.91],[8.91,22.7],[10.65,23.24],[11.36,22.96],[7.6,22.23],[7.87,22.43],[8.21,22.49],[8.57,22.2],[8.73,22.07],[9.15,22.03],[9.42,22.19],[9.66,22.09],[9.81,21.83],[10.12,22.05],[10.48,22.43],[10.65,22.37],[10.51,22.21],[11.33,22.35],[11.5,22.37],[11.19,22.03],[11.81,21.91],[11.79,21.62],[10.65,21.83],[9.02,21.67],[9.41,21.54],[10.05,21.54],[5.27,21.39],[6.86,21.33],[7.11,21.13],[8.54,21.44],[8.26,21.3],[8.98,21.27],[9.41,21.27],[10.41,21.35],[10.82,21.18],[11.05,21.33],[10.46,21.04],[9.56,20.95],[9.65,21.04],[11.72,21.09],[12.03,21.06],[4.41,21.13],[5.25,20.98],[4.42,20.77],[4.26,20.57],[4.28,20.28],[-0.4,20.32],[10.62,20.63],[11.24,20.75],[11.6,20.61],[11.17,20.4],[11.3,20.49],[8.69,20.55],[9.12,20.28],[9.69,20.39],[6.7,20.31],[7.33,20.27],[7.36,20.07],[7.26,19.91],[9.15,20.08],[10.48,20.1],[9.83,20.0],[9.68,19.79],[8.23,19.86],[8.08,19.74],[5.43,19.68],[10.46,19.63],[8.67,19.55],[9.22,19.56],[9.7,19.46],[11.26,19.5],[2.79,19.2],[10.57,19.15],[10.24,19.07],[5.87,19.1],[7.88,18.91],[11.06,18.92],[13.0,18.66],[9.87,18.72],[8.31,18.55],[9.55,18.51],[10.22,18.41],[8.21,18.33],[8.15,18.19],[4.46,18.11],[9.65,18.1],[9.88,18.02],[10.36,18.0],[11.29,18.11],[8.36,17.92],[8.59,17.9],[8.51,17.73],[6.36,17.86],[7.1,17.76],[9.87,17.67],[6.18,17.55],[6.58,17.45],[4.58,17.39],[8.12,17.33],[6.51,17.14],[4.71,17.04],[6.01,16.99],[6.99,17.04],[6.87,16.89],[8.23,17.0],[7.87,16.85],[8.16,16.85],[9.93,17.14],[11.06,17.12],[10.76,16.98],[12.74,17.17],[3.91,16.87],[10.2,16.8],[9.56,16.85],[8.65,16.75],[8.98,16.75],[5.16,16.51],[7.38,16.59],[7.31,16.5],[9.59,16.51],[9.54,16.41],[8.94,16.39],[9.05,16.18],[9.88,16.33],[10.04,16.28],[10.9,16.3],[3.23,16.06],[7.47,16.01],[9.49,15.94],[9.34,15.82],[3.81,15.66],[5.56,15.7],[5.69,15.68],[5.62,15.44],[6.08,15.76],[6.56,15.63],[9.73,15.59],[10.0,15.42],[11.55,15.5],[9.18,15.36],[8.89,15.21],[7.71,15.15],[9.64,15.12],[6.71,15.09],[6.53,14.98],[6.4,14.77],[10.6,14.86],[10.58,14.74],[5.86,14.7],[5.13,14.65],[3.13,14.65],[2.27,14.55],[9.63,14.7],[8.66,14.55],[8.49,14.34],[7.81,14.46],[9.2,14.42],[10.26,14.52],[10.46,14.37],[4.44,14.31],[6.32,14.23],[9.3,14.18],[9.54,14.2],[9.73,14.23],[9.0,14.11],[10.34,14.11],[10.62,14.11],[10.49,13.95],[9.78,13.99],[7.87,14.02],[4.95,13.9],[5.79,13.93],[6.39,13.89],[6.63,13.93],[8.78,13.87],[11.42,13.9],[8.26,13.77],[7.61,13.73],[8.11,13.65],[9.15,13.77],[9.39,13.77],[9.6,13.67],[9.39,13.55],[10.78,13.7],[11.18,13.65],[2.0,13.61],[5.62,13.65],[10.24,13.63],[9.94,13.55],[5.22,13.53],[5.72,13.43],[7.03,13.47],[9.05,13.44],[10.31,13.44],[8.36,13.38],[7.6,13.19],[8.78,13.19],[7.11,13.17],[8.35,13.16],[10.09,13.25],[9.91,13.11],[11.42,13.24],[6.32,13.07],[6.15,13.0],[7.65,13.05],[8.78,12.95],[7.75,12.87],[9.42,12.93],[9.08,12.83],[5.12,12.79],[10.41,12.87],[9.42,12.74],[10.36,12.68],[7.72,12.62],[9.68,12.68],[10.17,12.62],[4.11,12.62],[6.76,12.54],[7.24,12.61],[8.86,12.56],[9.15,12.54],[9.57,12.49],[11.24,12.55],[8.13,12.44],[7.81,12.38],[2.48,12.3],[6.97,12.36],[4.69,12.38],[4.84,12.29],[8.76,12.29],[9.25,12.27],[4.11,12.24],[6.94,12.24],[10.0,12.24],[8.23,12.14],[7.48,12.14],[4.62,12.14],[3.87,12.08],[4.6,12.06],[9.05,12.08],[9.71,12.11],[2.56,12.0],[7.79,11.96],[8.37,12.0],[8.59,11.95],[9.34,11.88],[8.08,11.78],[6.95,11.78],[8.91,11.76],[10.38,11.72],[10.29,11.68],[3.8,11.67],[6.73,11.64],[9.54,11.7],[12.01,11.58],[8.42,11.62],[6.97,11.54],[9.18,11.58],[6.42,11.51],[6.28,11.45],[7.58,11.5],[1.96,11.38],[3.95,11.32],[9.44,11.48],[9.62,11.45],[4.81,11.32],[4.57,11.3],[7.95,11.32],[8.47,11.36],[8.86,11.38],[6.8,11.27],[4.58,11.08],[0.35,11.02],[0.89,10.97],[0.86,10.84],[7.2,11.0],[10.5,11.04],[3.4,10.89],[5.9,10.75],[8.79,10.84],[9.52,10.83],[8.55,10.84],[7.77,10.78],[3.87,10.79],[4.18,10.75],[-0.47,10.68],[6.92,10.69],[7.7,10.57],[8.52,10.57],[9.62,10.51],[7.21,10.51],[3.98,10.51],[4.76,10.57],[5.04,10.45],[4.64,10.42],[9.05,10.47],[11.02,10.49],[8.37,10.42],[7.02,10.33],[9.61,10.37],[8.28,10.3],[8.67,10.33],[4.21,10.27],[5.49,10.22],[6.27,10.2],[4.06,10.18],[2.69,10.15],[10.83,10.15],[7.21,10.08],[7.5,10.08],[8.74,10.12],[9.73,10.09],[9.54,10.0],[2.56,9.98],[8.4,10.0],[7.82,10.0],[6.8,10.01],[10.26,9.97],[2.14,9.89],[2.06,9.84],[3.85,9.84],[4.35,9.83],[5.32,9.89],[5.14,9.71],[5.95,9.83],[6.07,9.83],[6.61,9.79],[6.78,9.83],[9.36,9.87],[9.68,9.81],[10.55,9.85],[7.74,9.77],[8.88,9.69],[-0.4,9.62],[6.92,9.56],[7.7,9.61],[7.89,9.57],[8.36,9.55],[8.67,9.55],[9.25,9.52],[10.12,9.55],[1.37,9.42],[3.92,9.49],[4.26,9.43],[4.55,9.46],[4.83,9.55],[5.45,9.48],[6.49,9.43],[6.73,9.4],[7.65,9.43],[5.92,9.34],[2.59,9.31],[2.2,9.27],[3.43,9.21],[4.06,9.21],[4.32,9.25],[7.13,9.25],[8.47,9.31],[8.81,9.28],[9.22,9.28],[10.31,9.28],[2.85,9.09],[5.93,9.09],[7.4,9.09],[7.99,9.11],[9.88,9.15],[10.2,9.16],[6.46,9.03],[3.58,8.98],[4.5,8.98],[5.37,8.95],[7.45,8.95],[8.23,9.13],[1.23,8.95],[1.45,8.92],[3.78,8.87],[5.66,8.87],[8.42,8.92],[8.96,8.99],[9.25,8.95],[9.54,8.82],[10.15,8.85],[4.79,8.85],[7.5,8.73],[8.08,8.73],[8.37,8.76],[8.86,8.73],[2.74,8.67],[3.5,8.68],[4.69,8.68],[5.03,8.68],[5.23,8.58],[5.54,8.58],[5.76,8.51],[10.07,8.74],[7.33,8.63],[6.78,8.67],[9.54,8.58],[8.28,8.56],[8.81,8.56],[4.35,8.5],[6.65,8.5],[-0.31,8.48],[4.89,8.34],[5.47,8.4],[6.82,8.37],[9.63,8.37],[8.67,8.34],[1.81,8.17],[3.68,8.23],[7.14,8.28],[7.85,8.25],[7.65,8.16],[10.0,8.22],[4.06,8.19],[4.46,8.22],[9.54,8.16],[8.71,8.1],[9.0,8.08],[2.48,8.15],[1.53,8.04],[-0.35,8.04],[2.85,8.04],[4.11,8.02],[10.02,8.04],[8.3,8.0],[6.92,8.04],[1.06,7.94],[2.56,7.92],[5.11,7.98],[6.71,7.97],[9.34,7.98],[9.73,7.92],[4.4,7.92],[6.89,7.86],[9.0,7.88],[0.26,7.78],[4.63,7.75],[5.24,7.74],[10.88,7.8],[7.6,7.76],[9.3,7.74],[9.54,7.76],[3.68,7.68],[2.61,7.64],[2.8,7.68],[7.84,7.68],[8.18,7.64],[8.47,7.64],[8.76,7.62],[3.0,7.58],[1.79,7.49],[3.2,7.5],[3.38,7.44],[3.97,7.44],[4.16,7.5],[4.28,7.43],[6.53,7.44],[7.03,7.44],[7.43,7.44],[7.94,7.4],[8.91,7.58],[9.34,7.44],[1.54,7.3],[5.23,7.3],[5.59,7.32],[5.95,7.38],[6.05,7.32],[8.81,7.32],[10.55,7.3],[0.72,7.2],[3.46,7.18],[4.55,7.14],[6.49,7.21],[6.87,7.16],[7.5,7.14],[9.15,7.26],[9.49,7.2],[1.5,7.09],[3.8,7.08],[5.32,7.04],[5.81,7.04],[6.05,7.05],[7.99,7.08],[8.18,7.14],[8.52,7.14],[0.87,6.96],[0.03,6.96],[3.34,6.97],[8.76,6.96],[9.34,7.02],[2.02,6.83],[5.11,6.86],[7.21,6.81],[8.23,6.89],[9.54,6.89],[9.92,6.83],[4.84,6.68],[6.87,6.77],[10.09,6.65],[0.55,6.57],[3.82,6.65],[4.11,6.65],[4.35,6.71],[4.35,6.51],[5.56,6.71],[5.76,6.71],[6.0,6.57],[5.47,6.57],[6.82,6.59],[7.5,6.62],[7.79,6.59],[8.03,6.65],[8.59,6.62],[9.34,6.65],[9.83,6.65],[1.16,6.42],[5.18,6.45],[6.63,6.44],[7.5,6.39],[7.89,6.44],[11.06,6.35],[9.44,6.41],[1.74,6.28],[2.51,6.32],[4.69,6.32],[5.76,6.35],[6.19,6.07],[6.49,6.22],[6.9,6.29],[8.33,6.29],[8.62,6.23],[9.05,6.27],[9.44,6.23],[2.14,6.16],[2.42,6.15],[3.68,6.27],[3.82,6.11],[4.55,6.11],[5.27,6.17],[5.37,6.01],[7.11,6.17],[7.7,6.11],[7.89,6.17],[8.37,6.11],[-0.49,6.04],[4.3,6.01],[4.6,5.99],[6.37,5.91],[7.07,5.93],[9.73,5.95],[3.94,5.86],[9.15,5.93],[1.38,5.78],[1.82,5.74],[-0.44,5.7],[5.62,5.8],[6.78,5.85],[7.55,5.75],[8.2,5.83],[8.57,5.81],[10.02,5.81],[4.55,5.75],[9.0,5.81],[9.68,5.71],[2.43,5.59],[3.97,5.57],[5.08,5.69],[6.92,5.75],[6.63,5.63],[9.25,5.69],[4.21,5.51],[4.55,5.57],[7.87,5.47],[8.76,5.51],[0.02,5.4],[5.27,5.45],[8.37,5.51],[9.15,5.51],[4.48,5.27],[6.53,5.29],[6.92,5.33],[7.99,5.27],[5.54,5.21],[6.08,5.18],[9.39,5.27],[9.66,5.29],[10.2,5.3],[8.57,5.27],[7.11,5.21],[9.0,5.21],[4.09,5.09],[7.31,5.08],[5.86,5.08],[1.72,5.0],[2.46,5.0],[2.85,4.97],[3.43,4.99],[5.05,4.94],[5.52,4.9],[8.08,5.03],[8.76,5.03],[0.28,4.8],[1.43,4.78],[1.91,4.76],[3.24,4.84],[4.3,4.84],[4.55,4.75],[5.71,4.84],[6.1,4.72],[7.02,4.78],[7.21,4.72],[7.6,4.84],[7.79,4.84],[8.37,4.84],[9.34,4.72],[9.88,4.66],[10.74,4.66],[0.19,4.6],[1.64,4.6],[1.88,4.54],[3.06,4.51],[3.68,4.66],[3.87,4.66],[5.03,4.6],[5.13,4.51],[5.66,4.6],[7.79,4.63],[8.13,4.66],[8.67,4.6],[9.15,4.54],[4.06,4.54],[4.4,4.54]]

// Thicker stretch of the arm just above the core, and the gaps inside the upper core
const armThickPoints = [[8.9,4.5],[9.3,4.45],[8.5,4.4],[9.0,4.9],[9.5,4.95],[9.1,5.1],[8.6,5.0],[8.9,5.3],[8.3,5.25],[9.5,5.4],[9.2,5.35],[8.6,5.55],[8.95,5.55],[9.4,5.6],[8.15,5.6],[8.8,5.85],[9.3,5.85],[9.55,6.0],[8.75,6.1],[9.2,6.1],[8.15,6.35],[8.5,6.45],[8.9,6.5],[9.2,6.5],[9.6,6.55],[8.3,6.7],[9.05,6.75],[9.75,6.85],[8.55,6.9],[9.0,7.1],[9.65,7.05],[8.3,7.3],[8.65,7.35],[9.1,7.45],[9.7,7.5],[8.35,7.85],[8.8,7.9],[9.15,8.2],[9.4,8.3],[8.95,8.4],[9.75,8.55],[8.5,8.6],[9.1,8.7],[9.35,9.0],[9.7,9.1],[8.7,9.05],[9.05,9.3],[9.5,9.3],[9.2,9.75],[8.95,10.0],[9.3,10.2],[8.85,10.7],[9.2,10.8],[8.9,11.1],[9.25,11.2],[9.0,11.9],[9.4,12.1],[9.3,13.0],[9.7,13.3],[9.1,13.3],[5.8,2.6],[6.1,2.6],[5.9,2.35],[6.1,2.35],[6.55,1.85],[5.7,1.6],[6.3,1.6],[5.95,1.1],[5.9,0.6],[6.1,0.6],[5.5,0.35],[5.3,0.1]]

// Lower right, around the dense core
const lowerFringePoints = [[0.22,4.34],[0.54,4.25],[1.64,4.31],[-0.16,3.99],[0.45,3.86],[1.89,3.98],[2.27,3.92],[2.18,3.73],[1.85,3.62],[2.98,4.14],[3.26,4.34],[2.68,3.75],[3.09,3.83],[2.9,3.48],[2.39,3.39],[0.26,3.62],[0.07,3.48],[-0.08,3.33],[-0.41,3.38],[1.0,3.38],[0.92,3.26],[1.49,3.34],[0.24,3.01],[3.23,3.22],[3.43,3.14],[2.88,3.08],[3.05,2.89],[1.97,2.89],[1.89,2.62],[2.39,2.69],[0.16,2.63],[-0.03,2.42],[0.47,2.44],[0.37,2.31],[2.9,2.79],[3.09,2.7],[3.22,2.61],[3.43,2.45],[3.19,2.36],[1.7,2.31],[2.42,1.95],[2.79,2.09],[3.53,2.07],[0.58,1.65],[-0.54,1.58],[3.0,1.48],[3.27,1.36],[0.05,1.27],[0.39,1.2],[0.68,1.27],[1.3,1.2],[-0.24,1.05],[1.19,1.01],[0.94,0.97],[0.51,0.86],[2.88,1.11],[3.13,1.2],[1.67,0.95],[1.95,0.83],[2.6,0.87],[2.79,0.78],[3.0,0.7],[0.25,0.62],[3.34,0.61],[3.6,0.54],[3.76,0.43],[1.64,0.5],[2.41,0.54],[2.29,0.4],[1.95,0.37],[2.03,0.22],[2.33,0.22],[3.03,0.25],[3.6,0.4],[1.06,0.28],[0.81,0.15],[2.2,0.12],[2.33,0.0],[2.12,0.06],[3.38,0.07],[3.55,0.12],[1.26,-0.05],[1.74,-0.08],[-0.41,-0.07],[0.54,-0.21],[3.83,-0.18],[2.5,-0.33],[2.75,-0.33],[3.05,-0.35],[0.6,-0.35],[3.93,-0.41],[0.95,-0.45],[2.08,-0.47],[3.22,-0.53],[0.6,-0.53],[-0.12,-0.65],[1.39,-0.6],[2.29,-0.68],[2.58,-0.58],[2.84,-0.68],[3.09,-0.58],[3.3,-0.58],[3.64,-0.72],[0.43,-0.8],[3.26,-0.82],[2.71,-0.77],[0.77,-0.96],[0.22,-0.98],[1.6,-1.02],[2.41,-0.96],[3.43,-0.96],[-0.29,-1.1],[0.96,-1.14],[2.2,-1.07],[2.84,-1.1],[3.6,-1.14],[0.05,-1.14],[0.39,-1.29],[1.15,-1.24],[1.68,-1.27],[3.34,-1.29],[-0.41,-1.31],[0.56,-1.47],[0.85,-1.52],[1.27,-1.43],[2.2,-1.43],[3.76,-1.49],[3.0,-1.52],[4.14,-1.47],[2.08,-1.61],[0.89,-1.71],[-0.08,-1.73],[-0.41,-1.85],[3.64,-1.78],[3.93,-1.8],[3.09,-1.85],[1.27,-1.82],[1.87,-1.85],[0.14,-2.04],[-0.2,-2.13],[1.57,-2.04],[1.4,-1.99],[2.92,-2.13],[3.17,-2.04],[3.51,-2.08],[1.74,-2.08],[0.75,-2.27],[0.22,-2.27],[1.44,-2.35],[2.2,-2.27],[1.95,-2.32],[3.85,-2.35],[3.43,-2.36],[0.45,-2.44],[0.05,-2.52],[3.17,-2.44],[1.99,-2.6],[1.74,-2.6],[4.31,-2.55],[2.52,-2.64],[-0.39,-2.88],[0.05,-2.81],[0.35,-2.88],[0.64,-2.97],[1.64,-2.81],[1.87,-2.83],[3.0,-2.79],[3.49,-2.76],[2.16,-3.07],[2.37,-3.02],[2.5,-2.97],[1.44,-3.07],[3.59,-3.07],[3.93,-2.88],[4.14,-2.74],[0.3,-3.16],[2.88,-3.16],[1.99,-3.21],[3.33,-3.14],[-0.54,-3.26],[-0.2,-3.3],[0.22,-3.35],[1.32,-3.26],[0.62,-3.38],[0.98,-3.44],[1.44,-3.35],[2.37,-3.44],[2.67,-3.4],[3.59,-3.35],[3.0,-3.44],[-0.03,-3.54],[-0.41,-3.49],[0.47,-3.7],[0.81,-3.63],[1.15,-3.63],[1.57,-3.68],[1.99,-3.72],[2.29,-3.77],[2.84,-3.68],[3.17,-3.68],[3.51,-3.68],[3.85,-3.58],[0.09,-3.85],[2.71,-3.87],[3.09,-3.87],[0.68,-3.98],[1.36,-3.91],[1.65,-3.96],[1.99,-4.02],[3.38,-4.0],[3.68,-3.96],[0.89,-4.1],[0.11,-4.15],[-0.22,-4.21],[1.7,-4.19],[2.79,-4.1],[3.17,-4.1],[3.51,-4.19],[1.19,-4.29],[0.77,-4.38],[-0.41,-4.29],[2.79,-4.33],[1.91,-4.48],[2.16,-4.52],[1.49,-4.48],[3.05,-4.48],[3.34,-4.38],[1.15,-4.57],[2.37,-4.62],[2.67,-4.66],[0.73,-4.66],[0.3,-4.71],[0.01,-4.76],[3.0,-4.66],[-0.2,-4.9],[0.56,-4.9],[1.19,-4.85],[2.33,-4.85],[2.71,-4.85],[3.09,-4.94],[-0.37,-4.99],[0.35,-4.99],[1.53,-5.08],[1.82,-4.99],[2.03,-4.9],[2.41,-5.04],[2.67,-5.08],[-0.24,-5.16],[0.68,-5.18],[1.06,-5.18],[1.61,-5.32],[1.99,-5.37],[2.29,-5.41],[2.58,-5.32],[2.84,-5.37],[3.17,-5.32],[0.68,-5.37],[-0.37,-5.51],[0.22,-5.43],[0.98,-5.51],[1.27,-5.37],[3.17,-5.55],[0.15,-5.65],[-0.29,-5.69],[1.36,-5.63],[1.65,-5.72],[0.73,-5.69],[0.56,-5.76],[0.98,-5.79],[1.82,-5.79],[2.08,-5.6],[2.41,-5.65],[2.75,-5.65],[-0.37,-5.88],[0.3,-5.98],[0.89,-5.93],[2.41,-5.88],[2.84,-5.84],[3.34,-5.84],[1.36,-6.02],[1.7,-6.07],[1.99,-6.07],[3.0,-6.07],[-0.37,-6.16],[-0.03,-6.21],[0.47,-6.26],[0.81,-6.21],[1.15,-6.26],[2.33,-6.16],[2.75,-6.35],[2.16,-6.26],[1.65,-6.26],[-0.12,-6.44],[0.3,-6.4],[0.73,-6.44],[1.15,-6.44],[1.49,-6.49],[1.87,-6.4],[2.41,-6.44],[-0.37,-6.59],[0.3,-6.68],[1.61,-6.63],[2.65,-6.68],[3.09,-6.77],[0.85,-6.68],[1.78,-6.77],[0.56,-6.77],[0.01,-6.82],[2.08,-6.87],[3.43,-6.59],[-0.29,-6.96],[0.77,-6.96],[0.3,-7.01],[0.98,-7.05],[1.57,-7.05],[2.37,-7.01],[3.17,-6.96],[3.59,-6.91],[1.27,-7.1],[0.18,-7.15],[-0.5,-7.24],[1.99,-7.17],[2.5,-7.2],[2.84,-7.24],[3.0,-7.17],[3.34,-7.24],[0.98,-7.45],[-0.16,-7.41],[1.36,-7.35],[1.65,-7.38],[2.03,-7.41],[0.37,-7.48],[-0.37,-7.54],[2.44,-7.54],[1.64,-7.65],[2.08,-7.71],[2.84,-7.64],[3.17,-7.62],[3.51,-7.57],[0.2,-7.8],[0.59,-7.73],[1.08,-7.92],[2.37,-8.01],[2.92,-7.8],[3.17,-7.9],[3.72,-7.83],[3.43,-8.06],[3.84,-8.09],[-0.54,-8.25],[2.97,-8.23],[1.5,-8.61],[3.53,-8.55],[4.65,-8.82],[5.05,-9.08],[5.66,-9.62],[6.24,-9.03],[6.13,-8.74],[6.68,-8.82],[6.51,-8.7],[5.75,-8.58],[5.28,-8.6],[7.14,-8.37],[4.78,-8.37],[4.48,-8.32],[6.8,-8.39],[10.81,2.68],[10.22,3.48],[10.12,3.22],[10.18,2.84],[10.13,1.69],[10.24,1.15],[10.6,-0.14],[10.03,-0.84],[9.71,0.2],[9.38,0.07],[9.46,-0.07],[9.61,-0.42],[9.16,-0.54],[9.04,-0.35],[9.73,-1.3],[9.7,-1.6],[9.42,-1.35],[9.21,-1.52],[9.42,-1.99],[9.54,-2.2],[9.21,-2.32],[9.08,-2.65],[9.11,-2.85],[8.9,-3.19],[9.11,-3.35],[9.04,-3.58],[8.83,-3.77],[8.81,-4.21],[9.28,-4.28],[8.66,-4.57],[8.62,-5.02],[8.79,-5.18],[8.8,-5.46],[8.6,-6.18],[8.25,-5.91],[8.36,-6.56],[8.07,-5.65],[7.94,-6.77],[7.9,-7.15],[7.52,-7.1],[8.15,-6.3],[8.32,-4.99]]

// Solid core, read row by row: one y per row and the x positions along it
const coreRowYs = [4.1,3.85,3.6,3.35,3.1,2.85,2.6,2.35,2.1,1.85,1.6,1.35,1.1,0.85,0.6,0.35,0.1,-0.12,-0.34,-0.56,-0.78,-1.0,-1.22,-1.44,-1.66,-1.88,-2.1,-2.32,-2.54,-2.76,-2.98,-3.2,-3.42,-3.64,-3.86,-4.08,-4.3,-4.52,-4.74,-4.96,-5.18,-5.4,-5.62,-5.84,-6.06,-6.28,-6.5,-6.72,-6.94,-7.16,-7.38,-7.6,-7.82,-8.04,-8.2]
const coreRowXs = [
  [5.7,6.0,6.7,7.1,8.2,8.5,8.8,9.0,9.3,9.6],
  [5.5,5.9,6.3,6.7,7.4,7.9,8.3,8.6,8.9,9.2,9.7],
  [4.8,5.5,6.6,6.9,7.2,7.5,7.9,8.2,8.5,8.8,9.1,9.4,9.8],
  [4.0,4.4,5.0,5.4,5.7,6.3,7.3,7.6,7.9,8.2,8.5,8.8,9.1,9.4],
  [4.2,4.5,4.8,5.2,5.5,6.1,6.5,7.4,7.7,8.0,8.3,8.6,9.3,9.7],
  [3.9,4.2,4.6,4.9,5.3,5.6,6.7,7.0,7.5,7.8,8.1,8.4,8.7,9.0,9.3,9.5],
  [4.5,4.8,5.1,5.5,6.5,6.8,7.3,7.6,7.9,8.2,8.5,8.8,9.1,9.4],
  [4.7,5.3,5.6,6.4,7.2,7.5,7.8,8.1,8.4,8.7,9.0,9.3],
  [4.6,5.0,5.4,5.7,6.0,6.4,6.7,7.1,7.4,7.7,8.0,8.3,8.6,8.9,9.2,9.4],
  [4.4,4.8,5.2,5.5,5.9,6.2,6.9,7.2,7.5,7.8,8.1,8.4,8.7,9.0,9.3],
  [4.0,4.3,4.7,5.0,5.4,6.0,6.6,6.9,7.2,7.5,8.0,8.3,8.6,8.9,9.2],
  [3.7,4.0,4.4,4.8,5.1,5.5,5.9,6.2,6.5,6.8,7.1,7.4,7.9,8.2,8.5,8.8,9.3],
  [3.6,4.0,4.3,4.6,5.0,5.3,5.7,6.2,6.6,6.9,7.2,7.8,8.1,8.4,8.7,9.1,9.5],
  [3.8,4.1,4.4,4.7,5.0,5.4,5.8,6.0,6.6,6.9,7.3,7.6,7.9,8.2,8.5,8.7,9.0,9.4],
  [3.9,4.3,4.7,5.2,5.6,6.4,6.7,7.0,7.3,7.6,7.9,8.2,8.5,8.8,9.1],
  [4.1,4.5,5.2,5.8,6.1,6.4,6.7,7.0,7.3,7.6,7.9,8.2,8.5,8.8,9.0],
  [4.5,4.9,5.6,6.0,6.3,6.6,6.9,7.2,7.5,7.8,8.1,8.4,8.7],
  [4.2,4.6,4.9,5.8,6.1,6.4,6.7,7.0,7.3,7.6,7.9,8.2,8.5,8.8],
  [4.3,4.6,5.0,5.5,5.9,6.2,6.5,6.8,7.1,7.4,7.7,8.0,8.3,8.6],
  [4.3,4.7,5.1,5.5,5.8,6.1,6.4,6.7,7.0,7.3,7.6,7.9,8.2,8.5,8.7],
  [4.5,4.9,5.3,5.7,6.0,6.3,6.6,6.9,7.2,7.5,7.8,8.1,8.4,8.7],
  [4.4,4.7,5.0,5.5,5.9,6.2,6.5,6.8,7.1,7.4,7.7,8.0,8.3,8.6,8.8],
  [4.5,4.8,5.2,5.6,5.9,6.2,6.5,6.8,7.1,7.4,7.7,8.0,8.3,8.6,8.9],
  [4.4,4.7,5.0,5.4,5.9,6.1,6.4,6.8,7.1,7.4,7.7,8.0,8.3,8.6,8.9],
  [4.3,4.6,4.9,5.2,5.6,6.2,6.6,7.0,7.3,7.6,7.9,8.2,8.5,8.8],
  [4.1,4.4,4.8,5.1,5.4,5.7,6.0,6.4,6.8,7.1,7.4,7.7,8.0,8.3,8.6,8.9],
  [4.0,4.3,4.6,4.9,5.2,5.5,5.8,6.2,6.6,6.9,7.2,7.5,7.8,8.1,8.4,8.7,9.0],
  [3.9,4.2,4.5,4.8,5.1,5.4,5.7,6.0,6.3,6.7,7.0,7.3,7.6,7.9,8.2,8.5,8.8],
  [4.1,4.4,4.7,5.0,5.3,5.6,6.0,6.4,6.7,7.0,7.3,7.6,7.9,8.2,8.5,8.8],
  [3.8,4.1,4.4,4.7,5.0,5.3,5.6,5.9,6.2,6.5,6.8,7.1,7.4,7.7,8.0,8.3,8.6],
  [3.95,4.25,4.55,4.85,5.15,5.45,5.75,6.05,6.35,6.65,6.95,7.25,7.55,7.85,8.15,8.45,8.75],
  [3.8,4.1,4.4,4.7,5.0,5.3,5.6,5.9,6.2,6.5,6.8,7.1,7.4,7.7,8.0,8.3,8.6],
  [3.95,4.25,4.55,4.85,5.15,5.45,5.75,6.05,6.35,6.65,6.95,7.25,7.55,7.85,8.15,8.45,8.75],
  [3.8,4.1,4.4,4.7,5.0,5.3,5.6,5.9,6.2,6.5,6.8,7.1,7.4,7.7,8.0,8.3,8.6],
  [3.65,3.95,4.25,4.55,4.85,5.15,5.45,5.75,6.05,6.35,6.65,6.95,7.25,7.55,7.85,8.15,8.45],
  [3.8,4.1,4.4,4.7,5.0,5.3,5.6,5.9,6.2,6.5,6.8,7.1,7.4,7.7,8.0,8.3,8.6],
  [3.65,3.95,4.25,4.55,4.85,5.15,5.45,5.75,6.05,6.35,6.65,6.95,7.25,7.55,7.85,8.15,8.45],
  [3.5,3.8,4.1,4.4,4.7,5.0,5.3,5.6,5.9,6.2,6.5,6.8,7.1,7.4,7.7,8.0,8.3,8.6],
  [3.65,3.95,4.25,4.55,4.85,5.15,5.45,5.75,6.05,6.35,6.65,6.95,7.25,7.55,7.85,8.15,8.45],
  [3.5,3.8,4.1,4.4,4.7,5.0,5.3,5.6,5.9,6.2,6.5,6.8,7.1,7.4,7.7,8.0,8.3],
  [3.65,3.95,4.25,4.55,4.85,5.15,5.45,5.75,6.05,6.35,6.65,6.95,7.25,7.55,7.85,8.15],
  [3.5,3.8,4.1,4.4,4.7,5.0,5.3,5.6,5.9,6.2,6.5,6.8,7.1,7.4,7.7,8.0,8.3],
  [3.65,3.95,4.25,4.55,4.85,5.15,5.45,5.75,6.05,6.35,6.65,6.95,7.25,7.55,7.85,8.15],
  [3.5,3.8,4.1,4.4,4.7,5.0,5.3,5.6,5.9,6.2,6.5,6.8,7.1,7.4,7.7,8.0],
  [3.65,3.95,4.25,4.55,4.85,5.15,5.45,5.75,6.05,6.35,6.65,6.95,7.25,7.55,7.85,8.15],
  [3.5,3.8,4.1,4.4,4.7,5.0,5.3,5.6,5.9,6.2,6.5,6.8,7.1,7.4,7.7,8.0],
  [3.65,3.95,4.25,4.55,4.85,5.15,5.45,5.75,6.05,6.35,6.65,6.95,7.25,7.55,7.85],
  [3.8,4.1,4.4,4.7,5.0,5.3,5.6,5.9,6.2,6.5,6.8,7.1,7.4,7.7],
  [3.95,4.25,4.55,4.85,5.15,5.45,5.75,6.05,6.35,6.65,6.95,7.25,7.55],
  [4.1,4.4,4.7,5.0,5.3,5.6,5.9,6.2,6.5,6.8,7.1,7.4],
  [4.25,4.55,4.85,5.15,5.45,5.75,6.05,6.35,6.65,6.95,7.25],
  [4.1,4.4,4.7,5.0,5.3,5.6,5.9,6.2,6.5,6.8,7.1],
  [4.25,4.55,4.85,5.15,5.45,5.75,6.05,6.35,6.65,6.95],
  [4.4,4.7,5.0,5.6,5.9,6.2,6.5,6.8],
  [4.55,4.85,5.45,5.75,6.05,6.35,6.65,6.95]
]

const pointGroups = [farLeftPoints, upperMiddlePoints, upperRightPoints, middleUpperPoints, middleCentrePoints, middleLowerPoints, rightArmPoints, armThickPoints, lowerFringePoints]

const scatterData = []
pointGroups.forEach(group => {
  group.forEach(p => scatterData.push({ x: p[0], y: p[1] }))
})
coreRowYs.forEach((y, i) => {
  coreRowXs[i].forEach(x => scatterData.push({ x: x, y: y }))
})

const tickFont = { family: '"Liberation Sans", Arial, sans-serif', size: 31 }
const titleFont = { family: '"Liberation Sans", Arial, sans-serif', size: 33.4 }

new Chart(document.getElementById('pca'), {
  type: 'scatter',
  data: {
    datasets: [{
      data: scatterData,
      backgroundColor: '#ADD8E6',
      borderWidth: 0,
      pointRadius: 7.2,
      pointHoverRadius: 7.2
    }]
  },
  options: {
    responsive: false,
    animation: false,
    layout: { padding: { top: 23, right: 24, left: 0, bottom: 0 } },
    plugins: {
      legend: { display: false },
      tooltip: { enabled: false }
    },
    scales: {
      x: {
        type: 'linear',
        min: -47.77,
        max: 16.55,
        afterBuildTicks: scale => { scale.ticks = xTicks.map(v => ({ value: v })) },
        afterFit: scale => { scale.height = 117 },
        border: { display: true, color: '#000', width: 4 },
        grid: { drawOnChartArea: false, tickLength: 11, tickWidth: 4, tickColor: '#333333' },
        ticks: { font: tickFont, color: '#4D4D4D', padding: 6, maxRotation: 0, autoSkip: false, callback: v => String(v) },
        title: { display: true, text: xTitle, font: titleFont, color: '#000', padding: { top: 0, bottom: 21 } }
      },
      y: {
        type: 'linear',
        min: -12.07,
        max: 41.75,
        afterBuildTicks: scale => { scale.ticks = yTicks.map(v => ({ value: v })) },
        // the default half-label padding would push the axis top down
        afterFit: scale => {
          scale.width = 134
          scale.paddingTop = 0
          scale.paddingBottom = 0
        },
        border: { display: true, color: '#000', width: 4 },
        grid: { drawOnChartArea: false, tickLength: 11, tickWidth: 4, tickColor: '#333333' },
        ticks: { font: tickFont, color: '#4D4D4D', padding: 10, autoSkip: false, callback: v => String(v) },
        title: { display: true, text: yTitle, font: titleFont, color: '#000', padding: { top: 21, bottom: 0 } }
      }
    }
  }
})
</script>
</body>
</html>
